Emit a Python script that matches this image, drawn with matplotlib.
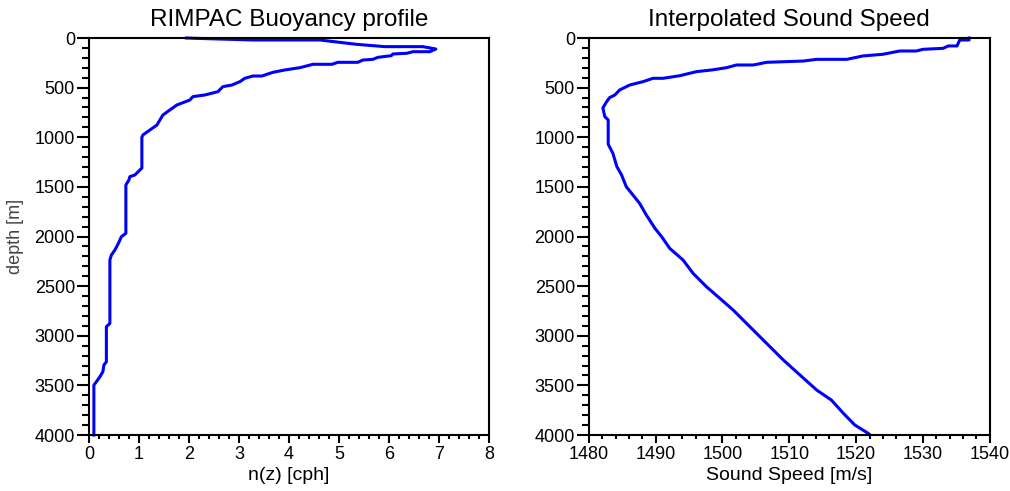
import matplotlib
matplotlib.use("Agg")
import matplotlib.pyplot as plt
from matplotlib.ticker import MultipleLocator

plt.rcParams['font.family'] = ['Liberation Sans', 'DejaVu Sans']

# buoyancy frequency profile
n_cph = [1.95, 2.12, 3.28, 4.62, 5.36, 5.92, 6.68, 6.94, 6.82, 6.48, 6.36, 6.08,
         6.05, 5.78, 5.68, 5.48, 5.38, 4.98, 4.86, 4.48, 4.22, 3.92, 3.68, 3.46,
         3.28, 3.12, 3.02, 2.86, 2.68, 2.58, 2.32, 2.08, 2.02, 1.76, 1.62, 1.48,
         1.36, 1.22, 1.08, 1.06, 1.06, 0.92, 0.82, 0.80, 0.74, 0.74, 0.65, 0.59,
         0.52, 0.45, 0.42, 0.42, 0.35, 0.35, 0.30, 0.28, 0.22, 0.15, 0.10, 0.10]
n_depth = [0, 3, 20, 20, 64, 87, 87, 111, 138, 138, 154, 161,
           178, 195, 215, 222, 245, 245, 265, 265, 299, 322, 346, 383,
           383, 406, 440, 474, 490, 541, 574, 591, 625, 675, 725, 776,
           877, 927, 977, 1000, 1310, 1380, 1397, 1431, 1481, 1968, 2002, 2069,
           2136, 2187, 2237, 2875, 2909, 3262, 3295, 3362, 3413, 3463, 3497, 4000]

# interpolated sound speed profile
c_ms = [1536.9, 1536.9, 1535.5, 1535.1, 1533.8, 1533.0, 1530.0, 1529.0, 1526.5,
        1524.0, 1521.0, 1518.6, 1514.1, 1512.1, 1506.6, 1504.6, 1502.1, 1500.6,
        1498.4, 1496.1, 1493.6, 1491.1, 1489.6, 1488.1, 1486.1, 1484.6, 1483.9,
        1483.1, 1482.6, 1482.1, 1482.4, 1482.9, 1482.9, 1483.6, 1484.2, 1484.9,
        1485.6, 1486.4, 1487.6, 1488.6, 1489.9, 1490.9, 1492.1, 1494.1, 1495.6,
        1497.6, 1499.6, 1501.6, 1504.1, 1506.1, 1509.1, 1511.6, 1514.1, 1516.3,
        1518.1, 1519.8, 1521.8, 1522.1]
c_depth = [0, 20, 20, 80, 80, 104, 114, 131, 131,
           164, 181, 215, 215, 232, 245, 272, 272, 299,
           322, 339, 380, 406, 406, 440, 474, 524, 574,
           601, 648, 705, 793, 826, 1070, 1162, 1297, 1380,
           1498, 1565, 1666, 1783, 1918, 2002, 2119, 2237, 2371,
           2506, 2623, 2741, 2909, 3043, 3244, 3396, 3547, 3648,
           3782, 3899, 3983, 4000]

fig = plt.figure(figsize=(10.1, 4.91), dpi=100)
ax1 = fig.add_axes([0.088, 0.114, 0.396, 0.8086])
ax2 = fig.add_axes([0.583, 0.114, 0.397, 0.8086])

ax1.plot(n_cph, n_depth, color='#0000ff', lw=2.2, clip_on=False)
ax2.plot(c_ms, c_depth, color='#0000ff', lw=2.2, clip_on=False)

for ax in (ax1, ax2):
    ax.set_ylim(4000, 0)
    ax.yaxis.set_major_locator(MultipleLocator(500))
    ax.yaxis.set_minor_locator(MultipleLocator(100))
    ax.tick_params(which='both', direction='out', width=1.5, labelsize=13)
    ax.tick_params(axis='y', which='major', length=8.5, pad=1.5)
    ax.tick_params(axis='y', which='minor', length=5)
    ax.tick_params(axis='x', which='major', length=6, pad=2)
    ax.tick_params(axis='x', which='minor', length=3)
    for sp in ax.spines.values():
        sp.set_linewidth(1.5)

ax1.set_xlim(0, 8)
ax1.xaxis.set_major_locator(MultipleLocator(1))
ax1.xaxis.set_minor_locator(MultipleLocator(0.2))
ax1.set_title('RIMPAC Buoyancy profile', fontsize=17.5, pad=9)
ax1.set_xlabel('n(z) [cph]', fontsize=14, labelpad=3)
ax1.set_ylabel('depth [m]', fontsize=13, color='#444444', labelpad=8)

ax2.set_xlim(1480, 1540)
ax2.xaxis.set_major_locator(MultipleLocator(10))
ax2.xaxis.set_minor_locator(MultipleLocator(2))
ax2.set_title('Interpolated Sound Speed', fontsize=17.5, pad=9)
ax2.set_xlabel('Sound Speed [m/s]', fontsize=14, labelpad=3)

fig.savefig('out.png', dpi=100)
